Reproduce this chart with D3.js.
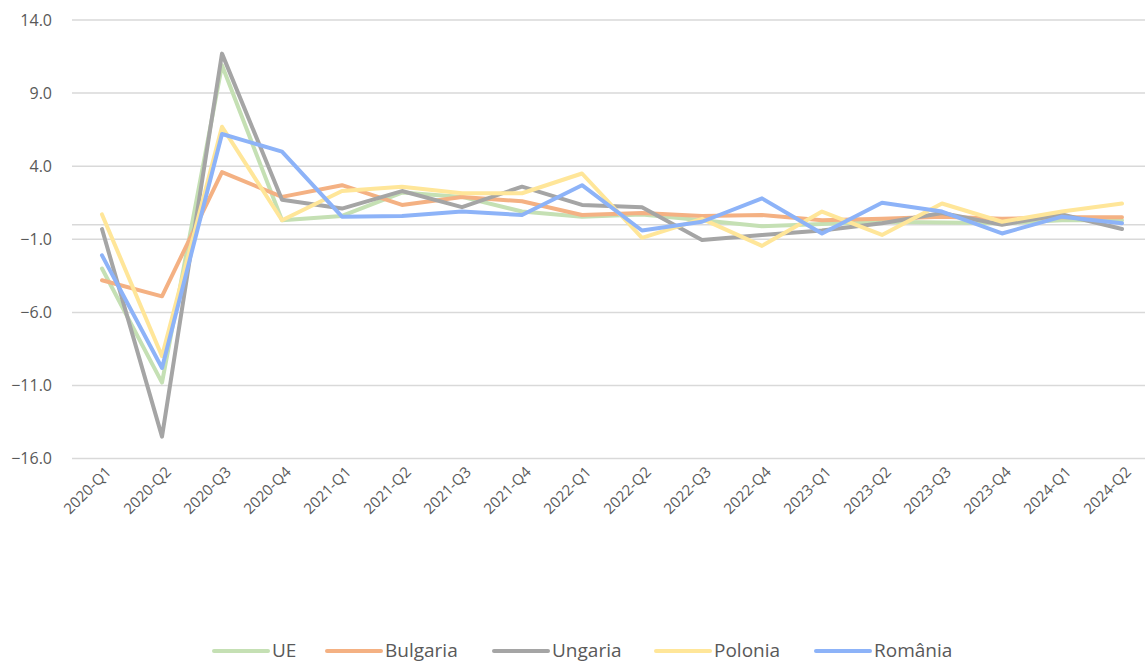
<!DOCTYPE html>
<html>
<head>
<meta charset="utf-8">
<script src="https://cdn.jsdelivr.net/npm/d3@7/dist/d3.min.js"></script>
<style>
  body { margin: 0; background: #fff; }
  svg { display: block; font-family: "Open Sans", sans-serif; }
</style>
</head>
<body>
<svg id="chart"></svg>
<script>
const categories = ['2020-Q1', '2020-Q2', '2020-Q3', '2020-Q4', '2021-Q1', '2021-Q2', '2021-Q3', '2021-Q4',
  '2022-Q1', '2022-Q2', '2022-Q3', '2022-Q4', '2023-Q1', '2023-Q2', '2023-Q3', '2023-Q4', '2024-Q1', '2024-Q2'];

const ue       = [-3.0, -10.8, 10.9, 0.3, 0.6, 2.2, 1.9, 0.9, 0.55, 0.7, 0.3, -0.1, 0.05, 0.2, 0.15, 0.1, 0.3, 0.3];
const bulgaria = [-3.8, -4.9, 3.6, 1.9, 2.7, 1.35, 1.9, 1.6, 0.66, 0.8, 0.6, 0.66, 0.3, 0.4, 0.55, 0.4, 0.5, 0.5];
const ungaria  = [-0.3, -14.5, 11.7, 1.7, 1.1, 2.3, 1.2, 2.6, 1.35, 1.2, -1.05, -0.7, -0.4, 0.1, 0.8, 0.0, 0.7, -0.3];
const polonia  = [0.7, -9.0, 6.7, 0.3, 2.3, 2.6, 2.15, 2.15, 3.5, -0.9, 0.4, -1.45, 0.9, -0.7, 1.45, 0.2, 0.9, 1.45];
const romania  = [-2.1, -9.8, 6.2, 5.0, 0.55, 0.6, 0.9, 0.66, 2.7, -0.4, 0.2, 1.8, -0.6, 1.5, 0.9, -0.6, 0.55, 0.1];

const yTicks = [-16, -11, -6, -1, 4, 9, 14];

const series = [
  { name: 'UE', values: ue, color: '#c5e0b4' },
  { name: 'Bulgaria', values: bulgaria, color: '#f4b183' },
  { name: 'Ungaria', values: ungaria, color: '#a5a5a5' },
  { name: 'Polonia', values: polonia, color: '#ffe699' },
  { name: 'România', values: romania, color: '#8db3f8' }
];

const W = 1145, H = 664;
const plot = { left: 72, right: 1152, top: 20, bottom: 458.6 };

const svg = d3.select('#chart').attr('width', W).attr('height', H);

const x = d3.scalePoint()
  .domain(categories)
  .range([plot.left, plot.right])
  .padding(0.5);

const y = d3.scaleLinear()
  .domain([-16, 14])
  .range([plot.bottom, plot.top]);

// grid lines
svg.append('g')
  .attr('class', 'grid')
  .selectAll('line')
  .data(yTicks)
  .enter()
  .append('line')
  .attr('x1', plot.left)
  .attr('x2', W)
  .attr('y1', d => y(d))
  .attr('y2', d => y(d))
  .attr('stroke', '#d9d9d9')
  .attr('stroke-width', 1.5);

// zero axis line
svg.append('line')
  .attr('x1', plot.left)
  .attr('x2', W)
  .attr('y1', y(0))
  .attr('y2', y(0))
  .attr('stroke', '#d9d9d9')
  .attr('stroke-width', 1.5);

// y axis labels
svg.append('g')
  .attr('class', 'axis-y')
  .selectAll('text')
  .data(yTicks)
  .enter()
  .append('text')
  .attr('x', 52)
  .attr('y', d => y(d))
  .attr('dy', '0.35em')
  .attr('text-anchor', 'end')
  .attr('fill', '#595959')
  .attr('font-size', '16px')
  .text(d => d3.format('.1f')(d));

// x axis labels (rotated)
svg.append('g')
  .attr('class', 'axis-x')
  .selectAll('text')
  .data(categories)
  .enter()
  .append('text')
  .attr('transform', d => 'translate(' + (x(d) + 10) + ',' + 473 + ') rotate(-45)')
  .attr('text-anchor', 'end')
  .attr('fill', '#595959')
  .attr('font-size', '15px')
  .text(d => d);

// lines
const line = d3.line()
  .x((d, i) => x(categories[i]))
  .y(d => y(d));

svg.append('g')
  .attr('class', 'lines')
  .selectAll('path')
  .data(series)
  .enter()
  .append('path')
  .attr('d', d => line(d.values))
  .attr('fill', 'none')
  .attr('stroke', d => d.color)
  .attr('stroke-width', 4)
  .attr('stroke-linejoin', 'round')
  .attr('stroke-linecap', 'round');

// legend
const legendX = [214, 327, 494, 656, 816];
const legend = svg.append('g')
  .attr('class', 'legend')
  .selectAll('g')
  .data(series)
  .enter()
  .append('g')
  .attr('transform', (d, i) => 'translate(' + legendX[i] + ',651)');

legend.append('line')
  .attr('x1', 0)
  .attr('x2', 54)
  .attr('stroke', d => d.color)
  .attr('stroke-width', 4)
  .attr('stroke-linecap', 'round');

legend.append('text')
  .attr('x', 58)
  .attr('dy', '0.33em')
  .attr('fill', '#595959')
  .attr('font-size', '19px')
  .text(d => d.name);
</script>
</body>
</html>
